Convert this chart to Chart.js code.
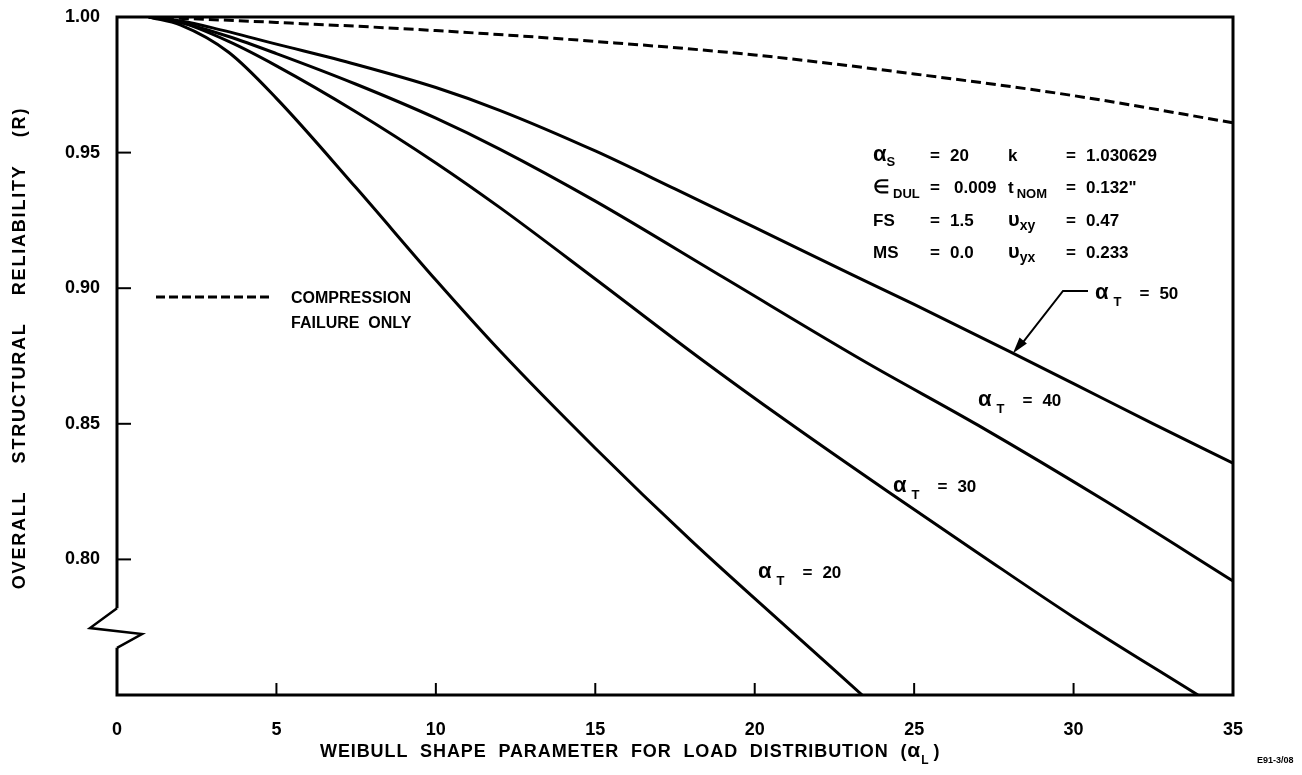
<!DOCTYPE html>
<html>
<head>
<meta charset="utf-8">
<script src="https://cdn.jsdelivr.net/npm/chart.js@4"></script>
<style>
  html, body { margin: 0; padding: 0; background: #fff; }
  #wrap { width: 1302px; height: 775px; }
</style>
</head>
<body>
<div id="wrap"><canvas id="chart" width="1302" height="775"></canvas></div>
<script>
// tick values
const xTicks = [0, 5, 10, 15, 20, 25, 30, 35];
const yTicks = [0.80, 0.85, 0.90, 0.95, 1.00];

// compression failure only (dashed)
const compX = [1, 5, 10, 15, 20, 25, 30, 35];
const compR = [1.000, 0.998, 0.995, 0.991, 0.986, 0.979, 0.971, 0.961];

// alpha_T = 50
const t50X = [1, 2, 3, 5, 7.5, 10, 12, 15, 17.5, 20, 23, 25, 28, 30, 32.5, 35];
const t50R = [1.000, 0.9985, 0.996, 0.990, 0.9825, 0.974, 0.9656, 0.9506, 0.9366, 0.9224, 0.9053, 0.894, 0.8766, 0.8648, 0.850, 0.8355];

// alpha_T = 40
const t40X = [1, 2, 3.5, 5, 7.5, 10, 12, 15, 19, 23.5, 27, 31, 35];
const t40R = [1.000, 0.998, 0.9928, 0.9865, 0.9752, 0.9627, 0.9513, 0.9321, 0.9041, 0.8726, 0.8495, 0.8215, 0.792];

// alpha_T = 30
const t30X = [1, 2, 3.5, 5, 7.5, 10, 12, 15, 18.3, 21, 24.15, 27, 30, 33.9];
const t30R = [1.000, 0.998, 0.991, 0.982, 0.965, 0.9462, 0.9298, 0.9034, 0.874, 0.851, 0.8252, 0.8024, 0.7787, 0.750];

// alpha_T = 20
const t20X = [1, 2, 3.5, 5, 7.5, 10, 12, 15, 18, 21, 23.37];
const t20R = [1.000, 0.997, 0.987, 0.970, 0.937, 0.903, 0.877, 0.841, 0.807, 0.775, 0.750];

const pts = (xs, ys) => xs.map((x, i) => ({ x: x, y: ys[i] }));

const FONT = '"Liberation Sans", Arial, sans-serif';
const f = (size) => `bold ${size}px ${FONT}`;

// draw a row of text pieces, each with own font and vertical shift
function runs(ctx, x, y, parts) {
  parts.forEach(p => {
    ctx.font = p.f;
    ctx.fillText(p.t, x, y + (p.dy || 0));
    x += ctx.measureText(p.t).width + (p.gap || 0);
  });
  return x;
}

const decor = {
  id: "decor",
  afterDraw(chart) {
    const ctx = chart.ctx;
    const a = chart.chartArea;
    const xs = chart.scales.x, ys = chart.scales.y;
    ctx.save();
    ctx.strokeStyle = "#000";
    ctx.fillStyle = "#000";
    ctx.lineWidth = 3;
    ctx.lineCap = "butt";
    ctx.lineJoin = "miter";

    // frame with axis break on the left side
    const b1 = ys.getPixelForValue(0.782), b2 = ys.getPixelForValue(0.7747);
    const b3 = ys.getPixelForValue(0.7725), b4 = ys.getPixelForValue(0.7674);
    ctx.beginPath();
    ctx.moveTo(a.left, b1);
    ctx.lineTo(a.left, a.top);
    ctx.lineTo(a.right, a.top);
    ctx.lineTo(a.right, a.bottom);
    ctx.lineTo(a.left, a.bottom);
    ctx.lineTo(a.left, b4);
    ctx.stroke();
    ctx.lineWidth = 2.5;
    ctx.beginPath();
    ctx.moveTo(a.left, b1);
    ctx.lineTo(a.left - 27, b2);
    ctx.lineTo(a.left + 25, b3);
    ctx.lineTo(a.left, b4);
    ctx.stroke();

    // inward tick marks
    ctx.lineWidth = 2;
    yTicks.slice(0, 4).forEach(v => {
      const py = ys.getPixelForValue(v);
      ctx.beginPath(); ctx.moveTo(a.left, py); ctx.lineTo(a.left + 14, py); ctx.stroke();
    });
    xTicks.slice(1, 7).forEach(v => {
      const px = xs.getPixelForValue(v);
      ctx.beginPath(); ctx.moveTo(px, a.bottom); ctx.lineTo(px, a.bottom - 12); ctx.stroke();
    });

    ctx.textBaseline = "alphabetic";
    ctx.textAlign = "left";

    // axis titles
    ctx.font = f(18);
    ctx.letterSpacing = "1.8px";
    ctx.save();
    ctx.translate(25, 348);
    ctx.rotate(-Math.PI / 2);
    ctx.textAlign = "center";
    ctx.fillText("OVERALL    STRUCTURAL    RELIABILITY    (R)", 0, 0);
    ctx.restore();

    ctx.letterSpacing = "0.9px";
    runs(ctx, 320, 757, [
      { t: "WEIBULL  SHAPE  PARAMETER  FOR  LOAD  DISTRIBUTION  (", f: f(18) },
      { t: "α", f: f(21) },
      { t: "L", f: f(12), dy: 7, gap: 4 },
      { t: ")", f: f(18) }
    ]);
    ctx.letterSpacing = "0px";
    ctx.font = f(9);
    ctx.fillText("E91-3/08", 1257, 763);

    // parameter block
    const rowsY = [161, 193, 226, 258];
    const c1 = 873, e1 = 930, v1 = 950, c2 = 1008, e2 = 1066, v2 = 1086;
    runs(ctx, c1, rowsY[0], [{ t: "α", f: f(22) }, { t: "S", f: f(13), dy: 5 }]);
    runs(ctx, c1, rowsY[1], [{ t: "∈", f: f(19), gap: 3 }, { t: "DUL", f: f(13), dy: 5 }]);
    runs(ctx, c1, rowsY[2], [{ t: "FS", f: f(17) }]);
    runs(ctx, c1, rowsY[3], [{ t: "MS", f: f(17) }]);
    runs(ctx, c2, rowsY[0], [{ t: "k", f: f(17) }]);
    runs(ctx, c2, rowsY[1], [{ t: "t", f: f(17), gap: 3 }, { t: "NOM", f: f(13), dy: 5 }]);
    runs(ctx, c2, rowsY[2], [{ t: "υ", f: f(20) }, { t: "xy", f: f(14), dy: 4 }]);
    runs(ctx, c2, rowsY[3], [{ t: "υ", f: f(20) }, { t: "yx", f: f(14), dy: 4 }]);
    const vals1 = ["20", "0.009", "1.5", "0.0"];
    const vals2 = ["1.030629", "0.132\"", "0.47", "0.233"];
    ctx.font = f(17);
    rowsY.forEach((y, i) => {
      ctx.fillText("=", e1, y);
      ctx.fillText(vals1[i], v1 + (i === 1 ? 4 : 0), y);
      ctx.fillText("=", e2, y);
      ctx.fillText(vals2[i], v2, y);
    });

    // legend for dashed line
    ctx.lineWidth = 3;
    ctx.setLineDash([9, 4]);
    ctx.beginPath(); ctx.moveTo(156, 297); ctx.lineTo(272, 297); ctx.stroke();
    ctx.setLineDash([]);
    ctx.font = f(16);
    ctx.fillText("COMPRESSION", 291, 303);
    ctx.fillText("FAILURE  ONLY", 291, 328);

    // curve labels
    const lab = (x, y, n) => runs(ctx, x, y, [
      { t: "α", f: f(22), gap: 5 },
      { t: "T", f: f(13), dy: 7, gap: 18 },
      { t: "=", f: f(17), gap: 10 },
      { t: n, f: f(17) }
    ]);
    lab(1095, 299, "50");
    lab(978, 406, "40");
    lab(893, 492, "30");
    lab(758, 578, "20");

    // arrow to alpha_T = 50 curve
    const tipX = xs.getPixelForValue(28.1), tipY = ys.getPixelForValue(0.876);
    ctx.lineWidth = 2;
    ctx.beginPath();
    ctx.moveTo(1088, 291);
    ctx.lineTo(1063, 291);
    ctx.lineTo(tipX + 6, tipY - 6);
    ctx.stroke();
    const ang = Math.atan2(tipY - 291, tipX - 1063);
    ctx.beginPath();
    ctx.moveTo(tipX, tipY);
    ctx.lineTo(tipX - 17 * Math.cos(ang - 0.28), tipY - 17 * Math.sin(ang - 0.28));
    ctx.lineTo(tipX - 17 * Math.cos(ang + 0.28), tipY - 17 * Math.sin(ang + 0.28));
    ctx.closePath();
    ctx.fill();
    ctx.restore();
  }
};

const line = (data, dash) => ({
  data: data,
  borderColor: "#000",
  borderWidth: 3,
  borderDash: dash || [],
  pointRadius: 0,
  fill: false,
  cubicInterpolationMode: "monotone"
});

new Chart(document.getElementById("chart").getContext("2d"), {
  type: "line",
  data: {
    datasets: [
      line(pts(compX, compR), [10, 5]),
      line(pts(t50X, t50R)),
      line(pts(t40X, t40R)),
      line(pts(t30X, t30R)),
      line(pts(t20X, t20R))
    ]
  },
  options: {
    responsive: false,
    animation: false,
    layout: { padding: { top: 17, right: 69, left: 0, bottom: 0 } },
    plugins: { legend: { display: false }, tooltip: { enabled: false } },
    scales: {
      x: {
        type: "linear",
        min: 0,
        max: 35,
        afterBuildTicks: s => { s.ticks = xTicks.map(v => ({ value: v })); },
        afterFit: s => { s.height = 80; s.paddingLeft = 0; s.paddingRight = 0; },
        grid: { display: false, drawTicks: false },
        border: { display: false },
        ticks: { padding: 24, color: "#000", maxRotation: 0, font: { family: FONT, weight: "bold", size: 18 } }
      },
      y: {
        type: "linear",
        min: 0.75,
        max: 1.0,
        afterBuildTicks: s => { s.ticks = yTicks.map(v => ({ value: v })); },
        afterFit: s => { s.width = 117; s.paddingTop = 0; s.paddingBottom = 0; },
        grid: { display: false, drawTicks: false },
        border: { display: false },
        ticks: { padding: 17, color: "#000", callback: v => v.toFixed(2), font: { family: FONT, weight: "bold", size: 18 } }
      }
    }
  },
  plugins: [decor]
});
</script>
</body>
</html>
